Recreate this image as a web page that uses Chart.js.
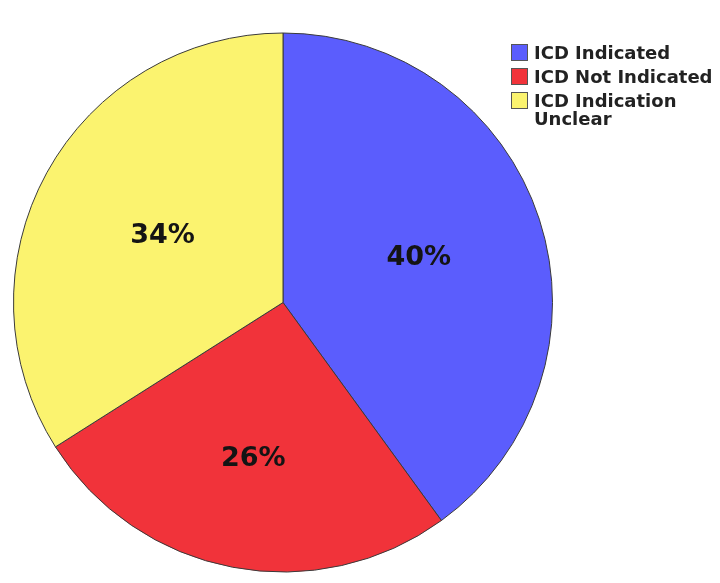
<!DOCTYPE html>
<html>
<head>
<meta charset="utf-8">
<script src="https://cdn.jsdelivr.net/npm/chart.js@4/dist/chart.umd.min.js"></script>
<style>
  html, body { margin: 0; padding: 0; background: #fff; }
  #wrap { width: 720px; height: 583px; }
</style>
</head>
<body>
<div id="wrap"><canvas id="grafico" width="720" height="583"></canvas></div>
<script>
// dados do grafico
const categorias = ['ICD Indicated', 'ICD Not Indicated', 'ICD Indication Unclear'];
const legendaLinhas = [['ICD Indicated'], ['ICD Not Indicated'], ['ICD Indication', 'Unclear']];
const valores = [40, 26, 34];
const rotulos = ['40%', '26%', '34%'];

const cores = ['#5b5dfd', '#f1333a', '#fbf36f'];
const raioRotulo = [0.53, 0.59, 0.51];

// rotulos dentro das fatias + legenda desenhada a mao
const rotulosPlugin = {
    id: 'rotulos',
    afterDraw(chart) {
        const ctx = chart.ctx;
        const meta = chart.getDatasetMeta(0);
        ctx.save();
        ctx.font = 'bold 27px "DejaVu Sans"';
        ctx.fillStyle = '#141414';
        ctx.textAlign = 'center';
        ctx.textBaseline = 'middle';
        meta.data.forEach((arc, i) => {
            const p = arc.getProps(['x', 'y', 'startAngle', 'endAngle', 'outerRadius'], true);
            const ang = (p.startAngle + p.endAngle) / 2;
            const r = p.outerRadius * raioRotulo[i];
            ctx.fillText(rotulos[i], p.x + Math.cos(ang) * r, p.y + Math.sin(ang) * r);
        });

        // legenda
        let y = 46;
        ctx.font = 'bold 18px "DejaVu Sans"';
        ctx.textAlign = 'left';
        ctx.textBaseline = 'middle';
        legendaLinhas.forEach((linhas, i) => {
            ctx.fillStyle = cores[i];
            ctx.fillRect(511, y - 2, 17, 17);
            ctx.strokeStyle = '#555';
            ctx.lineWidth = 1;
            ctx.strokeRect(511.5, y - 1.5, 16, 16);
            ctx.fillStyle = '#222';
            linhas.forEach((t, j) => ctx.fillText(t, 534, y + 8 + j * 18));
            y += 24 + (linhas.length - 1) * 18;
        });
        ctx.restore();
    }
};

const ctx = document.getElementById('grafico').getContext('2d');
new Chart(ctx, {
    type: 'pie',
    data: {
        labels: categorias,
        datasets: [{
            data: valores,
            backgroundColor: cores,
            borderColor: '#3a3a3a',
            borderWidth: 1
        }]
    },
    options: {
        responsive: false,
        animation: false,
        layout: { padding: { left: 13, right: 167, top: 32, bottom: 10 } },
        plugins: {
            legend: { display: false },
            tooltip: { enabled: false }
        }
    },
    plugins: [rotulosPlugin]
});
</script>
</body>
</html>
